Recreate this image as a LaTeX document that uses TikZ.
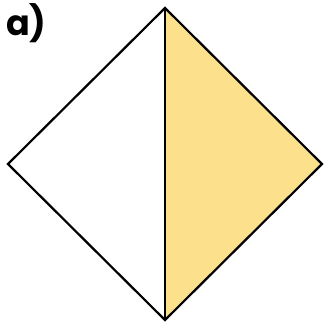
\documentclass[tikz,border=0pt]{standalone}
\usepackage{fontspec}
\setmainfont{Poppins}
\definecolor{Fill}{HTML}{FDE08C}

\begin{document}
\begin{tikzpicture}[x=1pt, y=-1pt,
  edge/.style={draw=black, line width=2.2pt, line join=miter},
  lbl/.style={font=\bfseries\fontsize{35}{35}\selectfont, inner sep=0pt}]
\useasboundingbox (0,0) rectangle (326,325);

% corners of the square
\coordinate (top) at (165,8);
\coordinate (rt)  at (322,164);
\coordinate (bot) at (165,320);
\coordinate (lt)  at (8,164);

\fill[Fill] (top) -- (rt) -- (bot) -- cycle;
\draw[edge] (top) -- (rt) -- (bot) -- (lt) -- cycle;
\draw[edge] (top) -- (bot);

\node[lbl, anchor=base west] (lab) at (6,35) {a)};
\end{tikzpicture}
\end{document}
